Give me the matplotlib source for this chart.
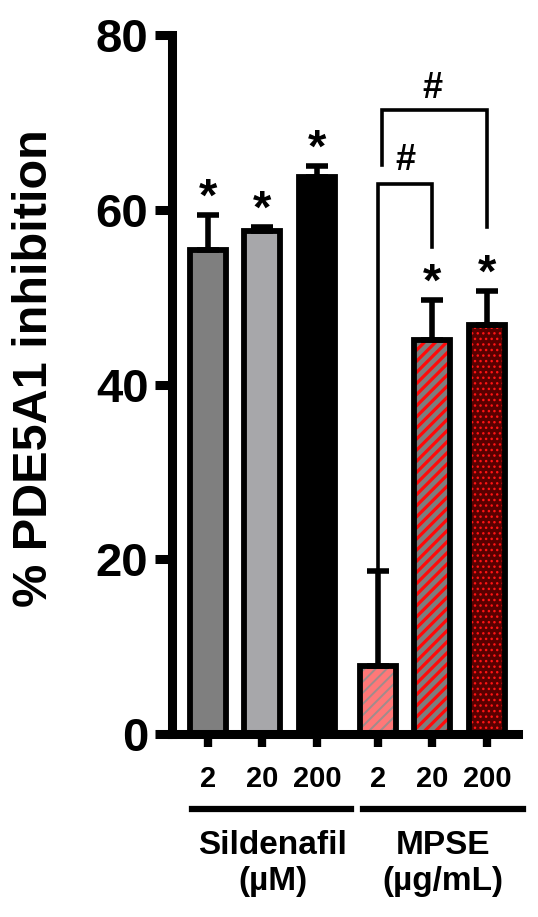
import matplotlib
matplotlib.use('Agg')
import matplotlib.pyplot as plt
import matplotlib.transforms as mtransforms

plt.rcParams['font.family'] = ['Liberation Sans', 'DejaVu Sans']
plt.rcParams['font.weight'] = 'bold'

# data
dose_labels = ['2', '20', '200', '2', '20', '200']
positions = [0, 1, 2, 3.12, 4.12, 5.12]
inhibition = [55.4, 57.6, 63.7, 7.8, 45.1, 46.8]
sem = [4.0, 0.4, 1.3, 10.9, 4.6, 3.9]
signif = ['*', '*', '*', '', '*', '*']
group_names = ['Sildenafil', 'MPSE']
group_units = ['(µM)', '(µg/mL)']

face_colors = ['#7f7f7f', '#a7a7aa', '#000000', '#ff7878', '#7d7d7d', '#580000']
hatch_colors = [None, None, None, '#a08c8c', '#ff0a0a', '#ff1414']
hatches = [None, None, None, '///', '///', '...']
hatch_lw = [0, 0, 0, 1.4, 2.3, 1.0]

fig = plt.figure(figsize=(5.38, 9.17), dpi=100)
ax = fig.add_axes([172 / 538, 1 - 734 / 917, (518 - 172) / 538, (734 - 35) / 917])

# bars: fill + hatch first, then the black outline on top
for x, v, fc, hc, h, hl in zip(positions, inhibition, face_colors, hatch_colors, hatches, hatch_lw):
    if h:
        with plt.rc_context({'hatch.linewidth': hl}):
            bb = ax.bar(x, v, 0.66, color=fc, edgecolor=hc, hatch=h, linewidth=0, zorder=2)
            for p in bb:
                if hasattr(p, 'set_hatch_linewidth'):
                    p.set_hatch_linewidth(hl)
    else:
        ax.bar(x, v, 0.66, color=fc, linewidth=0, zorder=2)
    ax.bar(x, v, 0.66, fill=False, edgecolor='black', linewidth=4.2, zorder=3)

ax.errorbar(positions, inhibition, yerr=[[0] * 6, sem], fmt='none', ecolor='black',
            elinewidth=4, capsize=8, capthick=4, zorder=4)

# stars above the error bars
for x, v, e, s in zip(positions, inhibition, sem, signif):
    if s:
        ax.annotate(s, (x, v + e), xytext=(0, 3), textcoords='offset points',
                    ha='center', va='baseline', fontsize=34, fontweight='bold')

# comparison brackets
ax.plot([positions[3], positions[3], positions[4], positions[4]],
        [inhibition[3] + sem[3], 63.0, 63.0, 55.7], color='black', lw=2.6,
        solid_joinstyle='miter', zorder=4)
ax.text((positions[3] + positions[4]) / 2, 64.6, '#', ha='center', va='baseline',
        fontsize=26, fontweight='bold')
ax.plot([positions[3] + 0.07, positions[3] + 0.07, positions[5], positions[5]],
        [65.1, 71.4, 71.4, 58.0], color='black', lw=2.6,
        solid_joinstyle='miter', zorder=4)
ax.text((positions[3] + positions[5]) / 2, 72.8, '#', ha='center', va='baseline',
        fontsize=26, fontweight='bold')

ax.set_xlim(-0.66, 5.69)
ax.set_ylim(0, 80)
ax.set_yticks([0, 20, 40, 60, 80])
ax.set_xticks(positions)
ax.set_xticklabels(dose_labels)
for sp in ['top', 'right']:
    ax.spines[sp].set_visible(False)
for sp in ['left', 'bottom']:
    ax.spines[sp].set_linewidth(6.5)
    ax.spines[sp].set_capstyle('projecting')
ax.tick_params(axis='y', length=12, width=6.5, labelsize=34, pad=5)
ax.tick_params(axis='x', length=9, width=6, labelsize=21, pad=13)
for lab in ax.get_xticklabels() + ax.get_yticklabels():
    lab.set_fontweight('bold')

fig.text(35 / 538, 1 - 368 / 917, '% PDE5A1 inhibition', rotation=90, ha='center', va='center',
         fontsize=35, fontweight='bold')

# group lines and labels under the axis
trans = mtransforms.blended_transform_factory(ax.transData, fig.transFigure)
ax.plot([-0.29, 2.62], [1 - 809 / 917] * 2, color='black', lw=4.5, transform=trans, clip_on=False)
ax.plot([2.84, 5.78], [1 - 809 / 917] * 2, color='black', lw=4.5, transform=trans, clip_on=False)
for gx, name, unit in zip([1.19, 4.31], group_names, group_units):
    ax.text(gx, 1 - 854 / 917, name, transform=trans, ha='center', va='baseline',
            fontsize=24, fontweight='bold')
    ax.text(gx, 1 - 890 / 917, unit, transform=trans, ha='center', va='baseline',
            fontsize=24, fontweight='bold')

fig.savefig('out.png', dpi=100)
